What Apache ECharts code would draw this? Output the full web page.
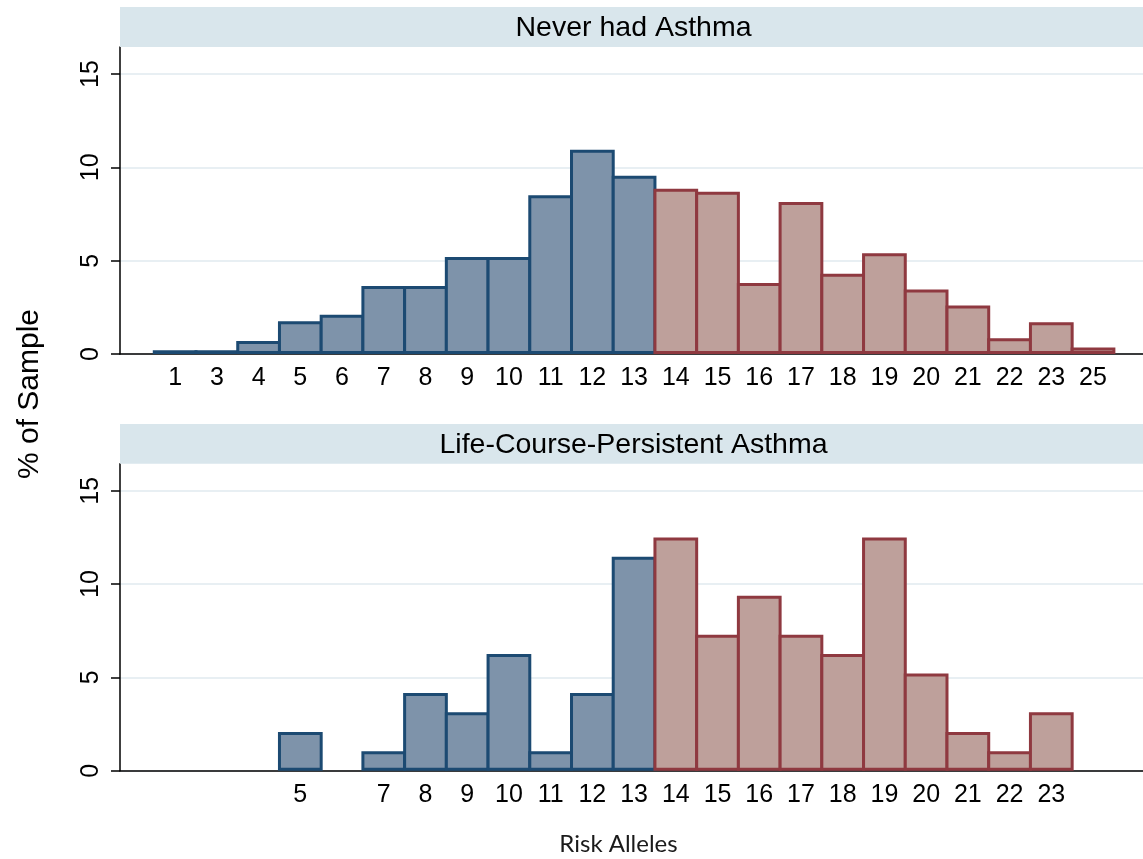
<!DOCTYPE html>
<html><head><meta charset="utf-8">
<script src="https://cdn.jsdelivr.net/npm/echarts@6/dist/echarts.min.js"></script>
<style>html,body{margin:0;padding:0;background:#fff}#c{width:1143px;height:859px}</style>
</head><body><div id="c"></div>
<script>
// ---- data ----
const categories = ['1','3','4','5','6','7','8','9','10','11','12','13','14','15','16','17','18','19','20','21','22','23','25'];
const neverHadAsthma = [0.2,0.2,0.7,1.75,2.1,3.65,3.65,5.2,5.2,8.5,10.95,9.55,8.85,8.7,3.8,8.15,4.3,5.4,3.45,2.6,0.85,1.7,0.35];
const lifeCoursePersistent = [null,null,null,2.08,null,1.04,4.17,3.13,6.25,1.04,4.17,11.46,12.5,7.29,9.38,7.29,6.25,12.5,5.21,2.08,1.04,3.13,null];
const yTicks = [0,5,10,15];
const panelTitles = ['Never had Asthma','Life-Course-Persistent Asthma'];
const xAxisTitle = 'Risk Alleles';
const yAxisTitle = '% of Sample';
const redFrom = 14; // allele counts from 14 upward drawn in red

// ---- layout / style ----
const W = 1143;
const plotLeft = 120;
const panels = [
  {top: 47, height: 307, stripTop: 7, stripH: 40},
  {top: 463.7, height: 307, stripTop: 424, stripH: 39.7}
];
const xMin = -1.322, xMax = 23.198, yMax = 16.45;
const borderW = 3;
const slotPx = (W - plotLeft) / (xMax - xMin);
const blue = {fill: '#7e93aa', border: '#1c4a72'};
const red = {fill: '#bea09b', border: '#8f3940'};
const labelFont = 'Liberation Sans, Arial, Helvetica, sans-serif';

const chart = echarts.init(document.getElementById('c'), null, {renderer: 'canvas'});

function barData(vals) {
  const out = [];
  vals.forEach((v, i) => {
    if (v == null) return;
    const c = Number(categories[i]) >= redFrom ? red : blue;
    out.push({value: [i, v], itemStyle: {color: c.fill, borderColor: c.border}});
  });
  return out;
}
const seriesVals = [neverHadAsthma, lifeCoursePersistent];

const grids = panels.map(p => ({left: plotLeft, right: 0, top: p.top, height: p.height}));
const xAxes = seriesVals.map((vals, k) => ({
  type: 'value', gridIndex: k, min: xMin, max: xMax,
  axisLine: {show: true, onZero: false, lineStyle: {color: '#000', width: 1.5}},
  axisTick: {show: false},
  splitLine: {show: false},
  axisLabel: {
    customValues: vals.map((v, i) => v == null ? null : i).filter(i => i != null),
    formatter: v => categories[Math.round(v)],
    color: '#000', fontSize: 25, fontFamily: labelFont, margin: 12
  }
}));
const yAxes = panels.map((p, k) => ({
  type: 'value', gridIndex: k, min: 0, max: yMax, interval: 5,
  axisLine: {show: true, onZero: false, lineStyle: {color: '#000', width: 1.5}},
  axisTick: {show: true, length: 9, lineStyle: {color: '#000', width: 1.5}},
  splitLine: {show: true, showMaxLine: false, lineStyle: {color: '#e8eff3', width: 2}},
  axisLabel: {
    rotate: 90, showMaxLabel: false, color: '#000', fontSize: 25, fontFamily: labelFont, margin: 16,
    formatter: v => yTicks.includes(v) ? String(v) : ''
  }
}));
const series = seriesVals.map((vals, k) => ({
  type: 'bar', xAxisIndex: k, yAxisIndex: k, barWidth: slotPx + borderW,
  data: barData(vals),
  itemStyle: {borderWidth: borderW}
}));

const graphic = [];
panels.forEach((p, k) => {
  graphic.push({type: 'rect', shape: {x: plotLeft, y: p.stripTop, width: W - plotLeft, height: p.stripH},
    style: {fill: '#d9e6ec'}, z: 1});
  graphic.push({type: 'text', x: (plotLeft + W) / 2 + 2, y: p.stripTop + p.stripH / 2 + 1,
    style: {text: panelTitles[k], fill: '#000', font: '28.5px ' + labelFont, textAlign: 'center', textVerticalAlign: 'middle'}, z: 2});
});
graphic.push({type: 'text', x: 30, y: 394, rotation: Math.PI / 2,
  style: {text: yAxisTitle, fill: '#000', font: '30px ' + labelFont, textAlign: 'center', textVerticalAlign: 'middle'}});
graphic.push({type: 'text', x: 618.5, y: 844,
  style: {text: xAxisTitle, fill: '#1a1a1a', font: '24px Lato, "Open Sans", sans-serif', textAlign: 'center', textVerticalAlign: 'middle'}});

chart.setOption({
  animation: false,
  backgroundColor: '#fff',
  grid: grids, xAxis: xAxes, yAxis: yAxes, series: series, graphic: graphic
});
</script></body></html>
